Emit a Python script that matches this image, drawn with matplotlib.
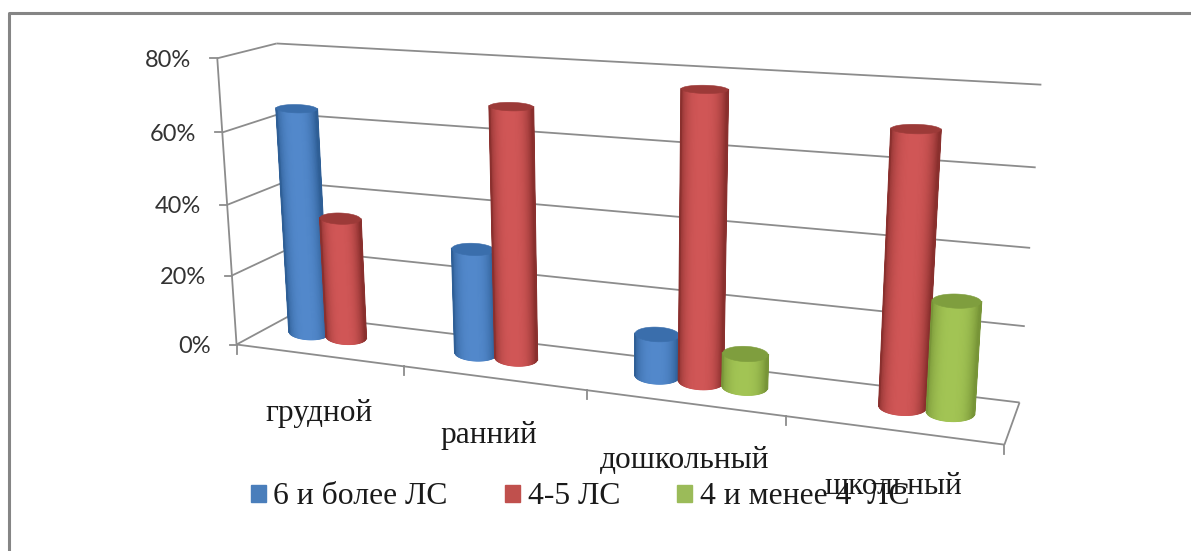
"""3D-style cylinder chart drawn on a flat pixel axes with a fitted camera matrix."""

import matplotlib

matplotlib.use("Agg")
import matplotlib.pyplot as plt
import numpy as np
from matplotlib.colors import LinearSegmentedColormap
from matplotlib.patches import Patch

categories = ["грудной", "ранний", "дошкольный", "школьный"]
series_names = ["6 и более ЛС", "4-5 ЛС", "4 и менее 4  ЛС"]
values_6plus = [0.645, 0.295, 0.115, 0.0]
values_4to5 = [0.345, 0.69, 0.765, 0.70]
values_under4 = [0.0, 0.0, 0.09, 0.287]
y_ticks = [0.0, 0.2, 0.4, 0.6, 0.8]
y_tick_labels = ["0%", "20%", "40%", "60%", "80%"]

W, H = 1191, 551

# box corners (category pos, depth, value) -> pixel, used to solve the camera
world_pts = [
    (0, 0, 0), (0, 0, 0.2), (0, 0, 0.4), (0, 0, 0.6), (0, 0, 0.8),
    (0, 1, 0.8), (0, 1, 0.6), (0, 1, 0),
    (4, 1, 0.8), (4, 1, 0.6), (4, 1, 0.4), (4, 1, 0.2), (4, 1, 0),
    (4, 0, 0), (1, 0, 0), (2, 0, 0), (3, 0, 0),
]
pixel_pts = [
    (236.5, 344), (232, 276), (228, 204), (222, 132), (217, 58),
    (277, 44), (280, 114), (292, 314),
    (1041, 85), (1036, 167), (1030, 248), (1026, 326), (1019, 402),
    (1004, 444), (404.5, 367), (586, 391), (786, 417),
]


def fit_camera(world, pixel):
    rows = []
    for (a, b, c), (px, py) in zip(world, pixel):
        rows.append([a, b, c, 1, 0, 0, 0, 0, -px * a, -px * b, -px * c, -px])
        rows.append([0, 0, 0, 0, a, b, c, 1, -py * a, -py * b, -py * c, -py])
    _, _, vt = np.linalg.svd(np.array(rows, dtype=float))
    return vt[-1].reshape(3, 4)


CAM = fit_camera(world_pts, pixel_pts)


def project(u, d, v):
    u, d, v = np.broadcast_arrays(u, d, v)
    pts = np.stack([u, d, v, np.ones_like(u, dtype=float)], axis=-1)
    q = pts @ CAM.T
    return q[..., 0] / q[..., 2], q[..., 1] / q[..., 2]


def line3d(ax, a, b, color="#8c8c8c", lw=1.3, zorder=1):
    xs, ys = project(np.array([a[0], b[0]], float), np.array([a[1], b[1]], float), np.array([a[2], b[2]], float))
    ax.plot(xs, ys, color=color, lw=lw, zorder=zorder, solid_capstyle="butt")


def ring(uc, dc, ru, v, th):
    # screen-space ellipse at height v; flatter the closer it is to eye level
    x1, y1 = project(uc + ru, dc, v)
    x0, y0 = project(uc - ru, dc, v)
    cx, cy = (x0 + x1) / 2, (y0 + y1) / 2
    ex, ey = (x1 - x0) / 2, 0.35 * (y1 - y0) / 2
    b = abs(ex) * (0.36 - 0.24 * v)
    return cx + np.cos(th) * ex, cy + np.cos(th) * ey + np.sin(th) * b


def cylinder(ax, uc, value, palette, zorder):
    center, edge, top = palette
    ru, dc = 0.124 - 0.0035 * uc, 0.55
    cmap = LinearSegmentedColormap.from_list("side", [center, edge])

    # front half of the wall, smooth shaded from the middle to the silhouette
    th = np.linspace(0, np.pi, 61)
    bx, by = ring(uc, dc, ru, 0.0, th)
    tx, ty = ring(uc, dc, ru, value, th)
    t = np.abs(np.cos(th) + 0.08) ** 3
    ax.pcolormesh(np.vstack([bx, tx]), np.vstack([by, ty]), np.vstack([t, t]), shading="gouraud",
                  cmap=cmap, vmin=0, vmax=1, zorder=zorder)
    for k in (0, -1):
        ax.plot([bx[k], tx[k]], [by[k], ty[k]], color=edge, lw=1.4, zorder=zorder + 0.05)

    lx, ly = ring(uc, dc, ru, value, np.linspace(0, 2 * np.pi, 121))
    ax.fill(lx, ly, color=top, lw=0.4, zorder=zorder + 0.1)


fig = plt.figure(figsize=(W / 100, H / 100), dpi=100)
ax = fig.add_axes([0, 0, 1, 1])
ax.set_xlim(0, W)
ax.set_ylim(H, 0)
ax.axis("off")

# outer chart frame, cut off on the right and at the bottom
ax.plot([8.5, 8.5, W], [H, 12.5, 12.5], color="#858585", lw=2.2, zorder=1)

# walls and gridlines
for tick, label in zip(y_ticks, y_tick_labels):
    line3d(ax, (0, 0, tick), (0, 1, tick))
    line3d(ax, (0, 1, tick), (4, 1, tick))
    x0, y0 = project(0.0, 0.0, tick)
    ax.plot([x0 - 7, x0], [y0, y0], color="#8c8c8c", lw=1.3, zorder=1)
    ax.text(x0 - 26, y0 + 2, label, ha="right", va="center",
            fontsize=17, family="Lato", color="#333333")
line3d(ax, (0, 0, 0), (0, 0, 0.8))
line3d(ax, (0, 0, 0), (4, 0, 0))
line3d(ax, (4, 0, 0), (4, 1, 0))

# category ticks along the front floor edge
for i in range(5):
    x0, y0 = project(float(i), 0.0, 0.0)
    ax.plot([x0, x0], [y0, y0 + 9], color="#8c8c8c", lw=1.3, zorder=1)

palettes = [
    ("#5288CB", "#2F5F96", "#3A6EAC"),
    ("#D05656", "#8A302E", "#9C3A38"),
    ("#A2C454", "#789538", "#7F9E3E"),
]
legend_colors = ["#4A7EBB", "#C0504D", "#9BBB59"]
all_series = [values_6plus, values_4to5, values_under4]
offsets = [0.258, 0.488, 0.713]

for i in range(len(categories)):
    for j, vals in enumerate(all_series):
        if vals[i] > 0:
            cylinder(ax, i + offsets[j], vals[i], palettes[j], zorder=3 + i * 3 + j)

# category labels follow the tilted floor, drawn over everything else
cat_label_pos = [(319, 414), (489, 436), (685, 461), (893, 487)]
for name, (lx, ly) in zip(categories, cat_label_pos):
    ax.text(lx, ly, name, ha="center", va="center", fontsize=22.6, family="Liberation Serif",
            color="#1a1a1a", zorder=30)

handles = [Patch(color=c) for c in legend_colors]
leg = ax.legend(handles, series_names, ncol=3, frameon=False, loc="center", bbox_to_anchor=(580 / W, 1 - 497 / H),
                prop={"family": "Liberation Serif", "size": 22.8}, handlelength=0.47, handleheight=0.47,
                handletextpad=0.25, columnspacing=1.8, labelcolor="#1a1a1a", borderpad=0, borderaxespad=0)
leg.set_zorder(20)

fig.savefig("out.png", dpi=100)
